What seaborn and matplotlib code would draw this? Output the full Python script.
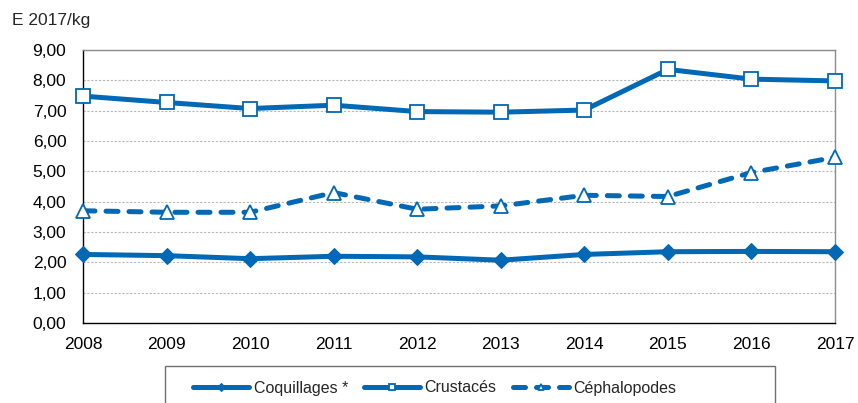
import matplotlib
matplotlib.use("Agg")
import matplotlib.pyplot as plt
import matplotlib.patches as mpatches
import seaborn as sns
import pandas as pd
from matplotlib.ticker import FuncFormatter, MultipleLocator

sns.set_style("white")
plt.rcParams["font.family"] = ["Liberation Sans", "DejaVu Sans"]

years = [2008, 2009, 2010, 2011, 2012, 2013, 2014, 2015, 2016, 2017]
coquillages = [2.26, 2.22, 2.12, 2.20, 2.18, 2.07, 2.26, 2.35, 2.36, 2.35]
crustaces = [7.48, 7.27, 7.07, 7.18, 6.97, 6.95, 7.02, 8.36, 8.04, 7.98]
cephalopodes = [3.70, 3.65, 3.65, 4.30, 3.75, 3.86, 4.21, 4.17, 4.96, 5.46]

labels = ["Coquillages *", "Crustacés", "Céphalopodes"]
blue = "#0068B4"

df = pd.DataFrame({
    "year": years,
    labels[0]: coquillages,
    labels[1]: crustaces,
    labels[2]: cephalopodes,
})

W, H = 858, 403
fig = plt.figure(figsize=(W / 100, H / 100), dpi=100)
ax = fig.add_axes([83 / W, (H - 323) / H, (835 - 83) / W, 273 / H])

lw = 3.6
common = dict(ax=ax, color=blue, lw=lw, clip_on=False, zorder=3)
sns.lineplot(data=df, x="year", y=labels[0], marker="D", markersize=8.5,
             markerfacecolor=blue, markeredgecolor=blue,
             label=labels[0], **common)
sns.lineplot(data=df, x="year", y=labels[1], marker="s", markersize=10,
             markerfacecolor="white", markeredgecolor=blue,
             markeredgewidth=1.3, label=labels[1], **common)
sns.lineplot(data=df, x="year", y=labels[2], marker="^", markersize=10,
             markerfacecolor="white", markeredgecolor=blue,
             markeredgewidth=1.3, linestyle=(0, (2.4, 2.2)),
             dash_capstyle="round", label=labels[2], **common)

ax.set_xlim(2008, 2017)
ax.set_ylim(0, 9)
ax.set_xticks(years)
ax.yaxis.set_major_locator(MultipleLocator(1))
ax.yaxis.set_major_formatter(FuncFormatter(lambda v, p: f"{v:.2f}".replace(".", ",")))
ax.set_xlabel("")
ax.set_ylabel("")

ax.grid(axis="y", color="#b8b8b8", linestyle=(0, (2, 1.5)), linewidth=0.8)
ax.set_axisbelow(True)

for side in ["left", "bottom"]:
    ax.spines[side].set_color("black")
    ax.spines[side].set_linewidth(1.0)
for side in ["top", "right"]:
    ax.spines[side].set_color("#8c8c8c")
    ax.spines[side].set_linewidth(1.0)

ax.tick_params(axis="both", which="major", direction="out", length=5,
               width=1.0, color="black", labelsize=12.5, colors="black")
ax.tick_params(axis="x", pad=5)
ax.tick_params(axis="y", pad=7)

fig.text(12 / W, 1 - 20 / H, "E 2017/kg", fontsize=12.5, va="center", ha="left")

# legend: frameless entries inside a separately drawn box that runs off the bottom edge
ax.get_legend().remove()
handles, labs = ax.get_legend_handles_labels()
leg = fig.legend(handles, labs, loc="center left",
                 bbox_to_anchor=(193 / W, 1 - 388 / H), ncol=3,
                 frameon=False, fontsize=11.5,
                 handlelength=3.5, handletextpad=0.3, columnspacing=1.0,
                 borderpad=0, borderaxespad=0, markerscale=0.5)
box = mpatches.Rectangle((165 / W, -0.05), (775 - 165) / W, (1 - 366 / H) + 0.05,
                         transform=fig.transFigure, fill=False,
                         edgecolor="#707070", linewidth=1.0, clip_on=False)
fig.patches.append(box)

fig.savefig("out.png", dpi=100)
